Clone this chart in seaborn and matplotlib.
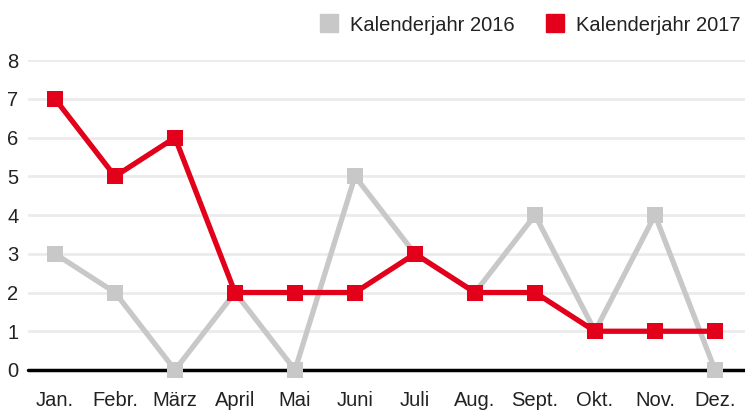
import matplotlib
matplotlib.use("Agg")
import matplotlib.pyplot as plt
import seaborn as sns
import pandas as pd
from matplotlib.lines import Line2D

# data
months = ["Jan.", "Febr.", "März", "April", "Mai", "Juni", "Juli", "Aug.", "Sept.", "Okt.", "Nov.", "Dez."]
values_2016 = [3, 2, 0, 2, 0, 5, 3, 2, 4, 1, 4, 0]
values_2017 = [7, 5, 6, 2, 2, 2, 3, 2, 2, 1, 1, 1]
series = ["Kalenderjahr 2016", "Kalenderjahr 2017"]

gray = "#c8c8c8"
red = "#e2001a"

sns.set_theme(style="white")
plt.rcParams["font.family"] = ["Liberation Sans", "DejaVu Sans"]

df = pd.DataFrame({
    "x": list(range(12)) * 2,
    "value": values_2016 + values_2017,
    "series": [series[0]] * 12 + [series[1]] * 12,
})

fig = plt.figure(figsize=(7.45, 4.12), dpi=100)
ax = fig.add_axes([0.0376, 0.102, 0.9624, 0.752])

# gray series first, red on top
for name, col, z in [(series[0], gray, 3), (series[1], red, 4)]:
    sub = df[df.series == name]
    sns.lineplot(data=sub, x="x", y="value", color=col, linewidth=3.8,
                 ax=ax, zorder=z, legend=False)
for name, col, z in [(series[0], gray, 5), (series[1], red, 6)]:
    sub = df[df.series == name]
    sns.scatterplot(data=sub, x="x", y="value", color=col, marker="s", s=120,
                    linewidth=0, ax=ax, zorder=z, legend=False, clip_on=False)

ax.set_xlim(-0.45, 11.5)
ax.set_ylim(0, 8)
ax.set_yticks(range(0, 9))
ax.set_xticks(range(12))
ax.set_xticklabels(months)
ax.yaxis.grid(True, color="#ebebeb", linewidth=2)
ax.axhline(0, color="black", linewidth=2.5, zorder=2, clip_on=False)
for s in ax.spines.values():
    s.set_visible(False)
ax.tick_params(axis="both", length=0, labelsize=14.5, colors="#222222")
ax.tick_params(axis="x", pad=15)
ax.tick_params(axis="y", pad=7)
ax.set_xlabel("")
ax.set_ylabel("")

handles = [Line2D([], [], marker="s", color=c, linestyle="", markersize=13) for c in (gray, red)]
ax.legend(handles, series, loc="upper right", bbox_to_anchor=(1.005, 1.17), ncol=2, frameon=False,
          fontsize=14.5, handletextpad=0.05, columnspacing=1.0, borderaxespad=0,
          labelcolor="#222222")

fig.savefig("out.png", dpi=100)
